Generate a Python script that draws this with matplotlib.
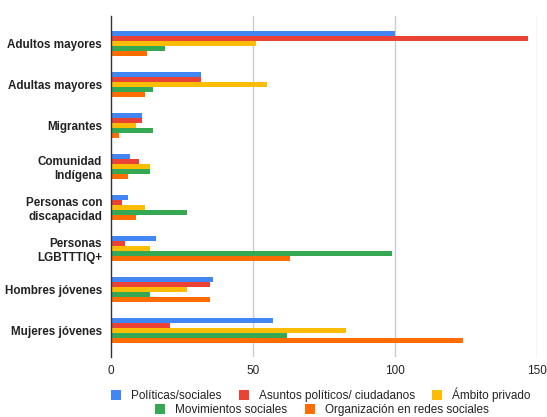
import matplotlib
matplotlib.use("Agg")
import matplotlib.pyplot as plt
from matplotlib.patches import Patch
import numpy as np

plt.rcParams["font.family"] = ["Liberation Sans", "DejaVu Sans"]

# ---- datos ----
categorias = ["Adultos mayores", "Adultas mayores", "Migrantes", "Comunidad\nIndígena",
              "Personas con\ndiscapacidad", "Personas\nLGBTTTIQ+", "Hombres jóvenes",
              "Mujeres jóvenes"]
series = ["Políticas/sociales", "Asuntos políticos/ ciudadanos", "Ámbito privado",
          "Movimientos sociales", "Organización en redes sociales"]
politicas = [100, 32, 11, 7, 6, 16, 36, 57]
asuntos = [147, 32, 11, 10, 4, 5, 35, 21]
ambito = [51, 55, 9, 14, 12, 14, 27, 83]
movimientos = [19, 15, 15, 14, 27, 99, 14, 62]
redes = [13, 12, 3, 6, 9, 63, 35, 124]
xticks = [0, 50, 100, 150]

colores = ["#4285F4", "#EA4335", "#FBBC04", "#34A853", "#FF6D01"]
valores = [politicas, asuntos, ambito, movimientos, redes]

# ---- figura ----
fig = plt.figure(figsize=(5.47, 4.17), dpi=100)
ax = fig.add_axes([110.5 / 547, 60 / 417, 426.5 / 547, 341 / 417])

y = np.arange(len(categorias))
h = 0.124
for k, (vals, col) in enumerate(zip(valores, colores)):
    ax.barh(y + (k - 2) * h, vals, height=h, color=col, label=series[k], zorder=3)

ax.set_xlim(0, 150)
ax.set_ylim(7.65, -0.67)
ax.set_xticks(xticks)
ax.set_xticklabels([str(t) for t in xticks], fontsize=8.5, color="#222222")
ax.set_yticks(y)
ax.set_yticklabels(categorias, fontsize=8.4, fontweight="bold", color="#222222",
                   linespacing=1.2)
ax.tick_params(axis="both", length=0)
ax.tick_params(axis="x", pad=6)
ax.tick_params(axis="y", pad=6)

for s in ["top", "right", "bottom"]:
    ax.spines[s].set_visible(False)
ax.spines["left"].set_color("#333333")
ax.spines["left"].set_linewidth(1.0)
ax.spines["left"].set_zorder(4)

for t in xticks[1:]:
    ax.axvline(t, color="#cccccc", linewidth=1.0, zorder=1)

# ---- leyenda (dos filas centradas) ----
handles = [Patch(facecolor=c, edgecolor="none") for c in colores]
kw = dict(frameon=False, fontsize=8.5, handlelength=0.85, handleheight=0.95,
          handletextpad=0.85, columnspacing=1.45, borderaxespad=0, borderpad=0,
          labelcolor="#222222")
leg1 = fig.legend(handles[:3], series[:3], ncol=3, loc="center",
                  bbox_to_anchor=(321 / 547, 1 - 395 / 417), **kw)
leg2 = fig.legend(handles[3:], series[3:], ncol=2, loc="center",
                  bbox_to_anchor=(322 / 547, 1 - 410 / 417), **kw)

plt.savefig("out.png", dpi=100)
